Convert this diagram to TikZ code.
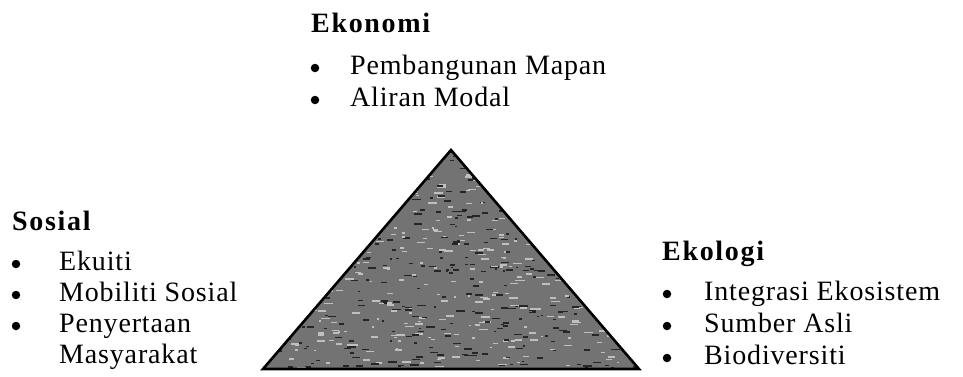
\documentclass[tikz,border=0pt]{standalone}
\usepackage{fontspec}
\setmainfont{Liberation Serif}
\newfontfamily\itemfont{Liberation Serif}[LetterSpace=3]
\newfontfamily\headfont{Liberation Serif}[LetterSpace=6]
\tikzset{
  head/.style={anchor=base west, inner sep=0pt, font=\fontsize{28}{32}\headfont\bfseries},
  item/.style={anchor=base west, inner sep=0pt, font=\fontsize{28}{32}\itemfont},
  bul/.style={circle, fill, inner sep=0pt, minimum size=8.5pt}
}
\begin{document}
\begin{tikzpicture}[x=1pt,y=-1pt]
  \useasboundingbox (0,0) rectangle (963,376);
  % pyramid
  \coordinate (tl) at (263,369);
  \coordinate (tt) at (451,150);
  \coordinate (tr) at (639,369);
  \fill[black!55] (tl) -- (tt) -- (tr) -- cycle;
  \begin{scope}
    \clip (tl) -- (tt) -- (tr) -- cycle;
    \pgfmathsetseed{42}
    \foreach \i in {1,...,900}
    {
      \pgfmathsetmacro\px{263+376*rnd}
      \pgfmathsetmacro\py{150+219*rnd}
      \pgfmathsetmacro\pw{2+7*rnd}
      \pgfmathsetmacro\pc{rnd<0.5 ? 85 : 25}
      \fill[black!\pc] (\px,\py) rectangle ++(\pw,1.5);
    }
  \end{scope}
  \draw[line width=2.6pt, line join=miter] (tl) -- (tt) -- (tr) -- cycle;
  % Ekonomi
  \node[head] (eko) at (311,32) {Ekonomi};
  \foreach \y/\t in {74/Pembangunan Mapan, 106/Aliran Modal}
  {
    \node[bul] (ekob\y) at (315,\y-6) {};
    \node[item] (ekoi\y) at (350,\y) {\t};
  }
  % Sosial
  \node[head] (sos) at (12,230) {Sosial};
  \foreach \y/\t in {270/Ekuiti, 301/Mobiliti Sosial, 332/Penyertaan}
  {
    \node[bul] (sosb\y) at (16,\y-6) {};
    \node[item] (sosi\y) at (59,\y) {\t};
  }
  \node[item] (sosi363) at (59,363) {Masyarakat};
  % Ekologi
  \node[head] (eco) at (662,260) {Ekologi};
  \foreach \y/\t in {300/Integrasi Ekosistem, 332/Sumber Asli, 364/Biodiversiti}
  {
    \node[bul] (ecob\y) at (667,\y-6) {};
    \node[item] (ecoi\y) at (704,\y) {\t};
  }
\end{tikzpicture}
\end{document}
